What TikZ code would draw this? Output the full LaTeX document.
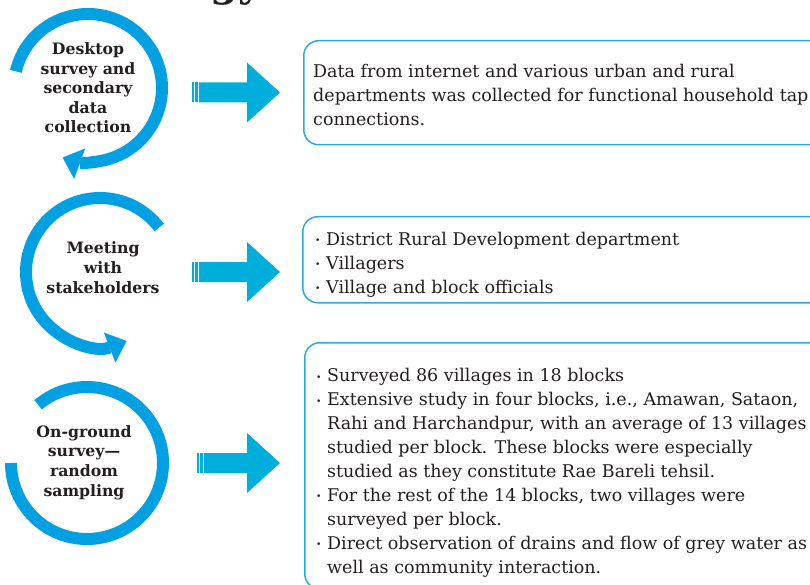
\documentclass[tikz,border=0pt]{standalone}
\usepackage{fontspec}
\setmainfont{DejaVu Serif}
\usetikzlibrary{arrows.meta}
\definecolor{arcblue}{RGB}{0,160,227}
\definecolor{arrowcyan}{RGB}{0,174,219}
\definecolor{boxline}{RGB}{41,171,226}
\definecolor{ink}{RGB}{35,31,32}
\newcommand\bul{\makebox[11pt][l]{\raisebox{1.5pt}{\fontsize{9}{9}\selectfont\textbullet}}}
\newcommand\bigarr[2]{%
  \fill[arrowcyan] (#1,#2-10) rectangle (#1+2,#2+10);
  \fill[arrowcyan] (#1+3,#2-10) rectangle (#1+6,#2+10);
  \fill[arrowcyan] (#1+7,#2-10) -- (247,#2-10) -- (247,#2-30) -- (280,#2)
     -- (247,#2+30) -- (247,#2+10) -- (#1+7,#2+10) -- cycle;}
\begin{document}
\begin{tikzpicture}[x=1pt,y=-1pt,
  ring/.style={draw=arcblue, line width=12pt},
  ringarrow/.style={ring, -{Triangle[length=18pt,width=32pt,line width=0.1pt]}},
  circtext/.style={font=\bfseries\fontsize{15.7}{19.6}\selectfont, text=ink, align=center, inner sep=0pt},
  boxtext/.style={font=\fontsize{17.5}{24}\selectfont, text=ink, align=left, inner sep=0pt},
  panel/.style={draw=boxline, line width=1.5pt, rounded corners=15pt, anchor=north west, inner sep=0pt}]
\useasboundingbox (0,0) rectangle (810,585);
\clip (0,0) rectangle (810,585);

% title fragment
\node[anchor=base east, font=\bfseries\fontsize{40}{40}\selectfont, text=ink, inner sep=0pt] (title) at (262,-3) {Methodology};

% rings
\coordinate (c1) at (88,88);
\coordinate (c2) at (100,272);
\coordinate (c3) at (87,463);
\draw[ringarrow] ([shift={(-167:74)}]c1) arc[start angle=-167, end angle=110, radius=74];
\draw[ringarrow] ([shift={(-37:74)}]c2) arc[start angle=-37, end angle=-291, radius=74];
\draw[ring] ([shift={(-130:76)}]c3) arc[start angle=-130, end angle=180, radius=76];

\node[circtext, anchor=base] (t1) at (88,133) {Desktop\\survey and\\secondary\\data\\collection};
\node[circtext, anchor=base] (t2) at (103,293) {Meeting\\with\\stakeholders};
\node[circtext, anchor=base] (t3) at (84,496) {On-ground\\survey—\\random\\sampling};

% big arrows
\bigarr{192}{92.5}
\bigarr{192}{272}
\bigarr{197}{463}

% boxes
\node[panel, minimum width=540pt, minimum height=104pt] (box1) at (303,40) {};
\node[panel, minimum width=540pt, minimum height=86pt] (box2) at (302,216) {};
\node[panel, minimum width=540pt, minimum height=246pt] (box3) at (304,342) {};

\node[boxtext, anchor=base west] (x1) at (313,126) {Data from internet and various urban and rural\\departments was collected for functional household tap\\connections.};
\node[boxtext, anchor=base west] (x2) at (315,293) {\bul District Rural Development department\\\bul Villagers\\\bul Village and block officials};
\node[boxtext, anchor=base west, font=\fontsize{17.5}{23.9}\selectfont] (x3) at (316,573) {\bul Surveyed 86 villages in 18 blocks\\
\bul Extensive study in four blocks, i.e., Amawan, Sataon,\\
\hspace*{11pt}Rahi and Harchandpur, with an average of 13 villages\\
\hspace*{11pt}studied per block. These blocks were especially\\
\hspace*{11pt}studied as they constitute Rae Bareli tehsil.\\
\bul For the rest of the 14 blocks, two villages were\\
\hspace*{11pt}surveyed per block.\\
\bul Direct observation of drains and flow of grey water as\\
\hspace*{11pt}well as community interaction.};
\end{tikzpicture}
\end{document}
